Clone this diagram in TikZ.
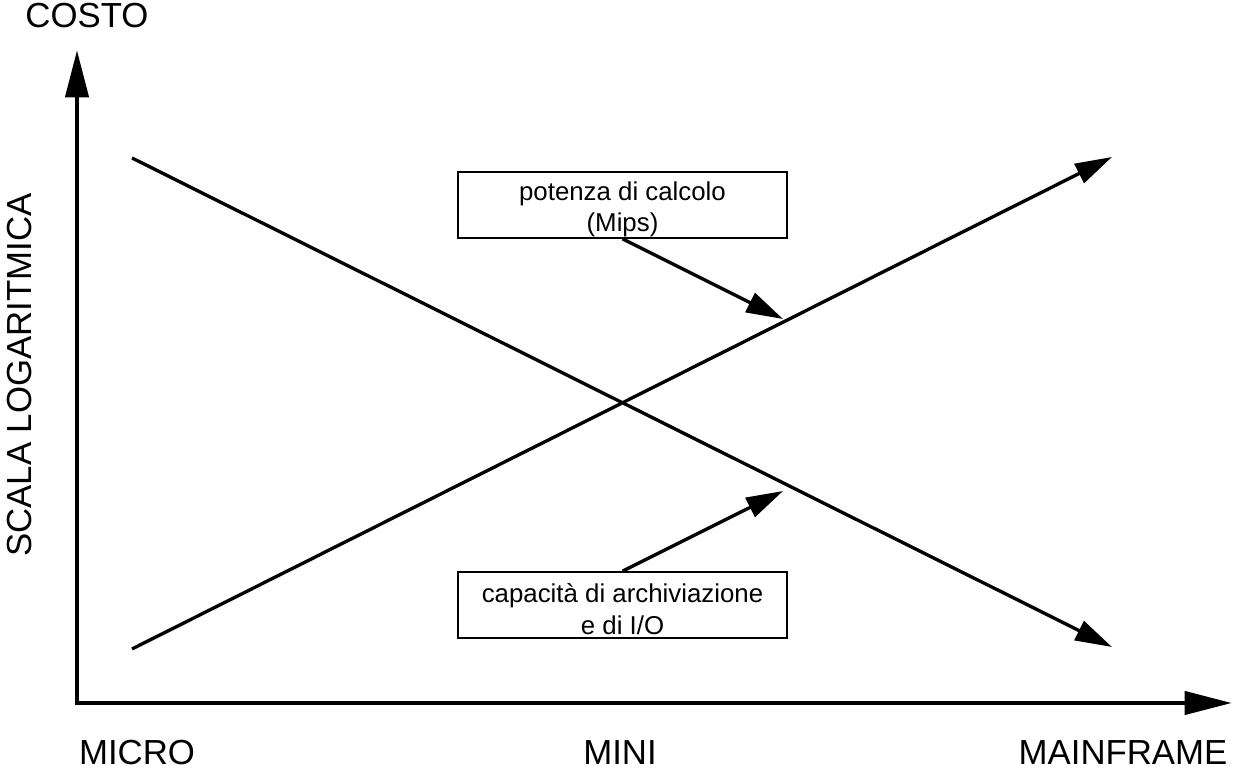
\documentclass[tikz,border=0pt]{standalone}
\usepackage{fontspec}
\setmainfont{Liberation Sans}
\usetikzlibrary{arrows.meta}
\begin{document}
\begin{tikzpicture}
	[x=0.02cm,y=-0.02cm,
	every node/.style={font=\fontsize{19.8}{23}\selectfont},
	box/.style={draw,line width=1.1pt,minimum width=187.7pt,minimum height=37.4pt,
		inner sep=0pt,align=center,text height=33.5pt,font=\fontsize{14.7}{18}\selectfont},
	axis/.style={line width=2.8pt,{Triangle[length=27pt,width=13pt]}-{Triangle[length=27pt,width=13pt]}},
	trend/.style={draw,line width=1.9pt,-{Triangle[length=21pt,width=12pt]}}]
	\useasboundingbox (0,0) rectangle (1234,770);
	% assi
	\coordinate (O) at (77,703);
	\coordinate (Y) at (77,50);
	\coordinate (X) at (1232,703);
	\draw[axis] (Y) -- (O) -- (X);
	\node (costo) at (87,16) {COSTO};
	\node[rotate=90] (scala) at (20,375) {SCALA LOGARITMICA};
	\node (micro) at (137,753) {MICRO};
	\node (mini) at (620,753) {MINI};
	\node (mainframe) at (1123,753) {MAINFRAME};
	% andamenti
	\coordinate (A1) at (132,158);
	\coordinate (A2) at (1112,647);
	\coordinate (B1) at (132,649);
	\coordinate (B2) at (1112,157);
	\path
	(A1) edge[trend] (A2)
	(B1) edge[trend] (B2);
	% etichette
	\node[box] (P) at (622.5,205) {potenza di calcolo\\(Mips)};
	\node[box] (C) at (622.5,605) {capacità di archiviazione\\e di I/O};
	\coordinate (TP) at (783,319);
	\coordinate (TC) at (783,491);
	\path
	(P.south) edge[trend] (TP)
	(C.north) edge[trend] (TC);
\end{tikzpicture}
\end{document}
